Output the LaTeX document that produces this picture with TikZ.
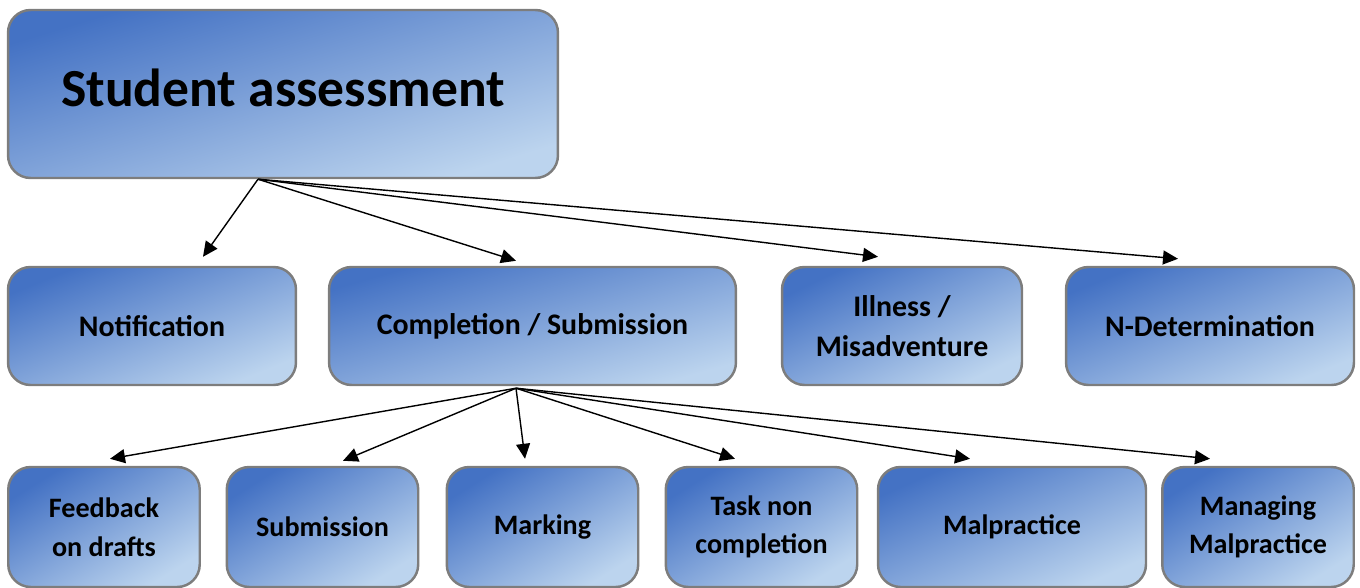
\documentclass[tikz,border=0pt]{standalone}
\usepackage{fontspec}
\setmainfont{Carlito}
\usetikzlibrary{arrows.meta}

\definecolor{boxdark}{RGB}{68,114,196}
\definecolor{boxlight}{RGB}{188,212,238}
\definecolor{boxline}{RGB}{125,125,125}

\begin{document}
\begin{tikzpicture}[x=0.02cm, y=-0.02cm,
  box/.style={draw=boxline, line width=1.4pt, rounded corners=0.45cm,
    top color=boxdark, bottom color=boxlight, shading angle=#1,
    inner sep=0pt, align=center, font=\fontsize{17}{22.5}\selectfont\bfseries},
  box/.default=22,
  small box/.style={box=#1, minimum width=3.83cm, minimum height=2.4cm,
    font=\fontsize{16}{22}\selectfont\bfseries},
  small box/.default=32,
  arr/.style={-{Triangle[length=0.3cm, width=0.28cm]}, line width=0.8pt}]
\useasboundingbox (0,0) rectangle (1360,588);

\node[box=17, minimum width=11cm, minimum height=3.36cm, text depth=0.25cm,
      font=\fontsize{30.5}{36}\selectfont\bfseries] (sa) at (283,94) {Student assessment};

\node[box,    minimum width=5.76cm, minimum height=2.36cm] (notif) at (152,326)   {Notification};
\node[box=16, minimum width=8.14cm, minimum height=2.36cm] (compl) at (532.5,326) {Completion / Submission};
\node[box=26, minimum width=4.8cm,  minimum height=2.36cm] (ill)   at (902,326)   {Illness /\\Misadventure};
\node[box,    minimum width=5.76cm, minimum height=2.36cm] (ndet)  at (1210,326)  {N-Determination};

\node[small box]                       (fb)   at (104,527)    {Feedback\\on drafts};
\node[small box]                       (sub)  at (322.5,527)  {Submission};
\node[small box]                       (mark) at (542.5,527)  {Marking};
\node[small box]                       (task) at (761.5,527)  {Task non\\completion};
\node[small box=24, minimum width=5.36cm] (mal)  at (1012,527)   {Malpractice};
\node[small box]                       (mmal) at (1258,527)   {Managing\\Malpractice};

\coordinate (sa-out)    at ([xshift=-0.5cm]sa.south);
\coordinate (compl-out) at ([xshift=-0.33cm, yshift=-0.04cm]compl.south);

\path[arr]
(sa-out)    edge ([xshift=1.02cm, yshift=0.18cm]notif.north)
            edge ([xshift=-0.33cm, yshift=0.1cm]compl.north)
            edge ([xshift=-0.48cm, yshift=0.18cm]ill.north)
            edge ([xshift=-0.64cm, yshift=0.14cm]ndet.north)
(compl-out) edge ([xshift=0.12cm, yshift=0.14cm]fb.north)
            edge ([xshift=0.41cm, yshift=0.1cm]sub.north)
            edge ([xshift=-0.35cm, yshift=0.14cm]mark.north)
            edge ([xshift=-0.53cm, yshift=0.14cm]task.north)
            edge ([xshift=-0.84cm, yshift=0.14cm]mal.north)
            edge ([xshift=-0.96cm, yshift=0.14cm]mmal.north)
;
\end{tikzpicture}
\end{document}
